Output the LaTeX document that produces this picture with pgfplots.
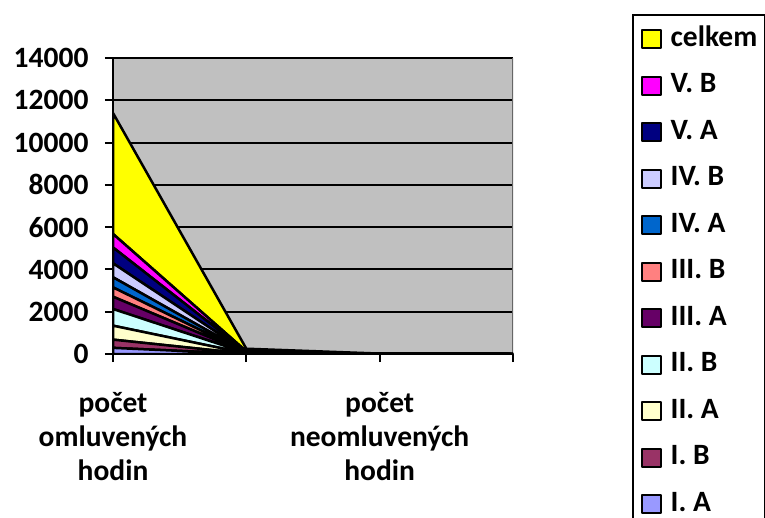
\documentclass[border=0pt]{standalone}
\usepackage{fontspec}
\setmainfont{Carlito}
\usepackage{pgfplots}
\pgfplotsset{compat=1.18}
\definecolor{bg}{HTML}{C0C0C0}
\definecolor{cIA}{HTML}{9999FF}
\definecolor{cIB}{HTML}{993366}
\definecolor{cIIA}{HTML}{FFFFCC}
\definecolor{cIIB}{HTML}{CCFFFF}
\definecolor{cIIIA}{HTML}{660066}
\definecolor{cIIIB}{HTML}{FF8080}
\definecolor{cIVA}{HTML}{0066CC}
\definecolor{cIVB}{HTML}{CCCCFF}
\definecolor{cVA}{HTML}{000080}
\definecolor{cVB}{HTML}{FF00FF}
\definecolor{cC}{HTML}{FFFF00}
\newcommand{\bigfont}{\fontsize{29.5}{34}\selectfont\bfseries}
\begin{document}
\begin{tikzpicture}[x=1pt,y=1pt]
\path[use as bounding box] (0,0) rectangle (765,517);
\begin{axis}[
  at={(113pt,163pt)}, anchor=south west,
  scale only axis, width=400pt, height=296pt,
  xmin=0, xmax=3, ymin=0, ymax=14000,
  ytick={0,2000,...,14000},
  xtick={0,1,2,3},
  xticklabels={{počet\\omluvených\\hodin},{},{počet\\neomluvených\\hodin},{}},
  xticklabel style={align=center, font=\bigfont, yshift=-27pt},
  yticklabel style={font=\bigfont, xshift=-13pt},
  /pgf/number format/assume math mode=true,
  /pgf/number format/1000 sep={},
  scaled y ticks=false,
  ymajorgrids, grid style={black, line width=2pt},
  axis background/.style={fill=bg},
  axis x line*=bottom, axis y line*=left,
  axis line style={line width=2.5pt, black, -},
  tick style={black, line width=2pt},
  tick align=outside, major tick length=8pt,
  stack plots=y,
  reverse legend,
  legend cell align=left,
  legend image code/.code={\draw[#1, draw=black, line width=2pt] (0pt,-9pt) rectangle (19pt,9pt); \path (27pt,0pt);},
  legend style={at={(1.2985,1.1485)}, anchor=north west, draw=black, line width=2pt, fill=white,
    font=\bigfont, row sep=20.5pt, inner xsep=8pt, inner ysep=11pt,
    nodes={inner sep=0pt, text height=20pt, text depth=6pt}},
  every axis plot/.append style={draw=black, line width=2.5pt, line join=round},
]
\addplot[fill=cIA] coordinates {(0,290) (1,6) (2,1) (3,0)} \closedcycle;
\addplot[fill=cIB] coordinates {(0,390) (1,9) (2,1) (3,0)} \closedcycle;
\addplot[fill=cIIA] coordinates {(0,660) (1,14) (2,1) (3,0)} \closedcycle;
\addplot[fill=cIIB] coordinates {(0,790) (1,17) (2,1) (3,0)} \closedcycle;
\addplot[fill=cIIIA] coordinates {(0,580) (1,12) (2,1) (3,0)} \closedcycle;
\addplot[fill=cIIIB] coordinates {(0,440) (1,10) (2,1) (3,0)} \closedcycle;
\addplot[fill=cIVA] coordinates {(0,480) (1,11) (2,1) (3,0)} \closedcycle;
\addplot[fill=cIVB] coordinates {(0,660) (1,15) (2,1) (3,0)} \closedcycle;
\addplot[fill=cVA] coordinates {(0,750) (1,17) (2,1) (3,0)} \closedcycle;
\addplot[fill=cVB] coordinates {(0,640) (1,14) (2,1) (3,0)} \closedcycle;
\addplot[fill=cC] coordinates {(0,5720) (1,125) (2,10) (3,0)} \closedcycle;
\legend{I. A,I. B,II. A,II. B,III. A,III. B,IV. A,IV. B,V. A,V. B,celkem}
\draw[gray!80!black, line width=2pt] (rel axis cs:1,0) -- (rel axis cs:1,1);
\end{axis}
\end{tikzpicture}
\end{document}
